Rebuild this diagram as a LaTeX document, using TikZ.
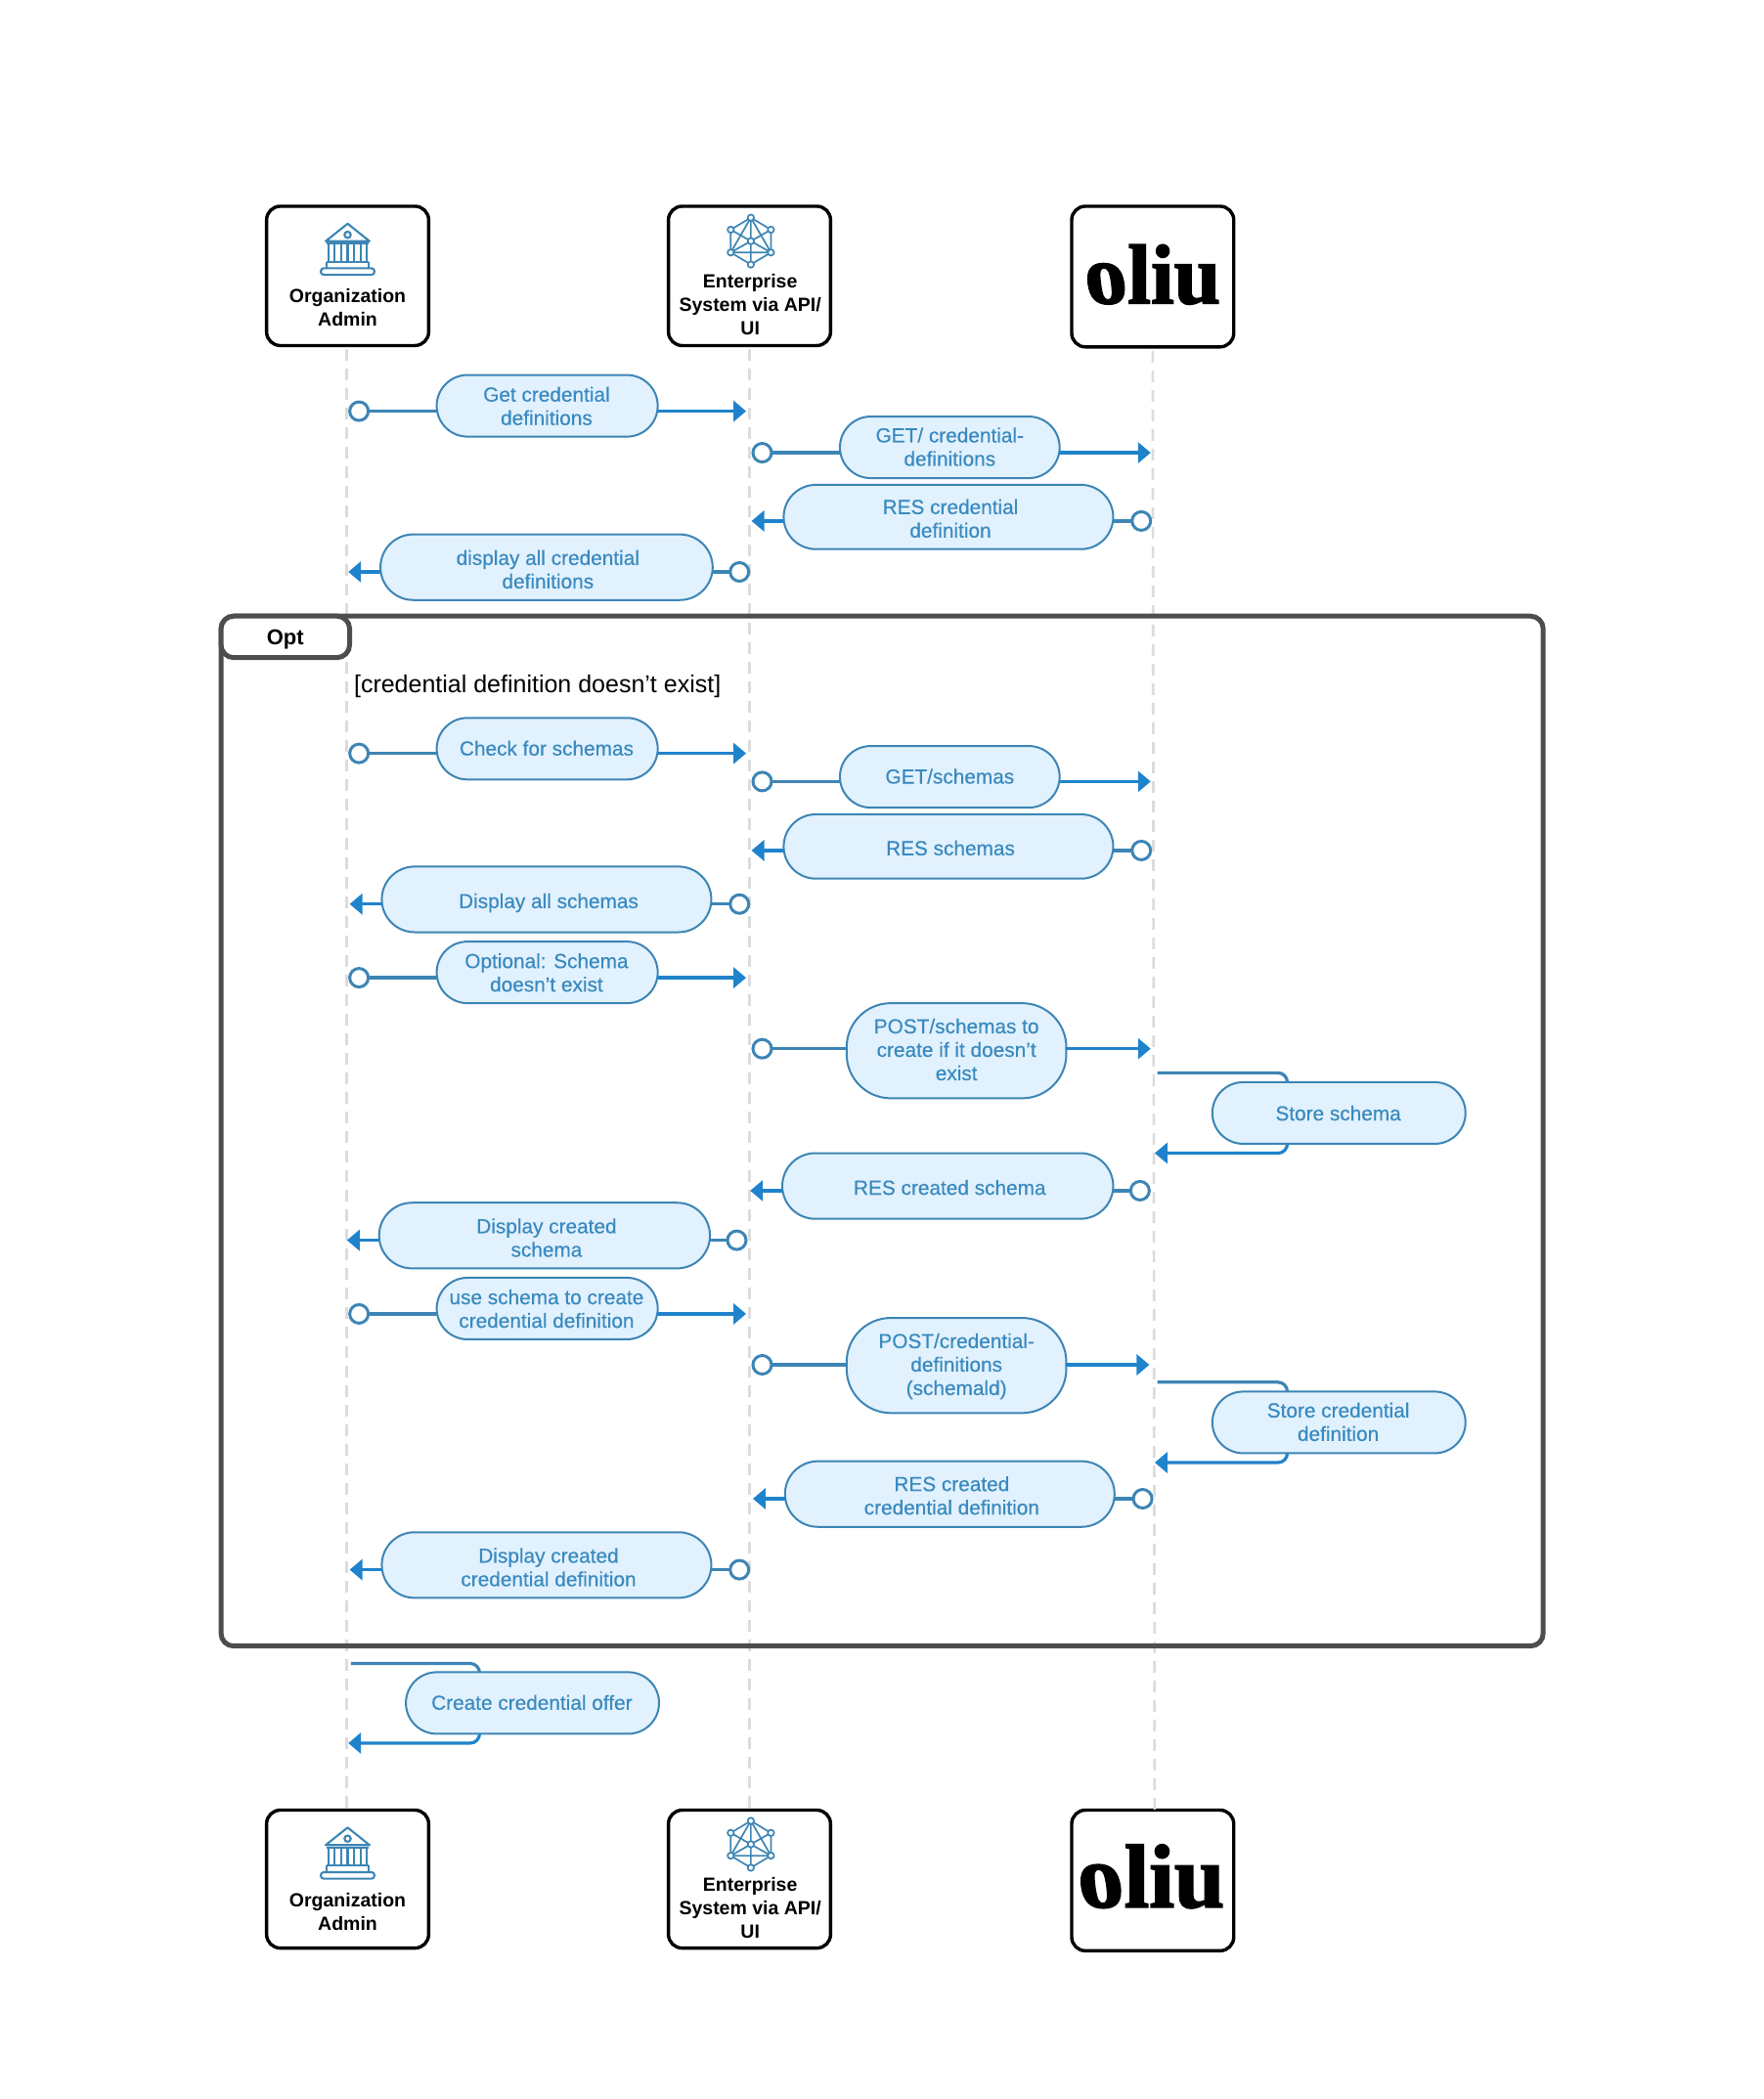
\documentclass[tikz,border=0pt]{standalone}
\usepackage{fontspec}
\usepackage{graphicx}
\usetikzlibrary{arrows.meta}
\setmainfont{Liberation Sans}
\newfontfamily\pillfont[FakeBold=0.4]{Liberation Sans}
\newfontfamily\oliufont[BoldFeatures={FakeBold=2}]{Liberation Serif}
\definecolor{pillfill}{HTML}{E1F1FD}
\definecolor{pillline}{HTML}{3D85B5}
\definecolor{pilltext}{HTML}{3A8ABF}
\definecolor{arrowblue}{HTML}{1F83CC}
\definecolor{lifegray}{HTML}{DCDCDC}
\definecolor{framegray}{HTML}{4D4D4D}
\tikzset{
  x=0.685pt,y=-0.685pt,
  actorbox/.style={draw=black,line width=1.7pt,fill=white,rounded corners=7pt,minimum width={121*0.685pt},inner sep=0pt,outer sep=0pt},
  actortext/.style={font=\fontsize{9.75}{12}\selectfont\bfseries,align=center,inner sep=0pt,text=black},
  lifeline/.style={draw=lifegray,line width=1.35pt,dash pattern=on 6pt off 4pt},
  pillbox/.style={draw=pillline,line width=1pt,fill=pillfill,inner sep=0pt,outer sep=0pt},
  pilllabel/.style={font=\pillfont\fontsize{10.4}{12}\selectfont,text=pilltext,align=center,inner sep=0pt,yshift=0.6pt},
  startdot/.style={circle,draw=pillline,line width=1.5pt,fill=white,minimum size=9.5pt,inner sep=0pt,outer sep=0pt},
  conn/.style={draw=pillline,line width=1.6pt},
  flow/.style={draw=arrowblue,line width=1.6pt,-{Triangle[length=6.5pt,width=10.5pt]}},
  loopin/.style={conn,rounded corners=4.8pt},
  loopout/.style={flow,rounded corners=4.8pt},
  framebox/.style={draw=framegray,line width=2.5pt,rounded corners=6.5pt,inner sep=0pt,outer sep=0pt},
  icon/.style={draw=pillline,line width=1.05pt},
}
% name x1 y1 x2 y2 tx ty text
\newcommand{\pillnode}[8]{%
  \node[pillbox,minimum width={(#4-#2)*0.685pt},minimum height={(#5-#3)*0.685pt},
        rounded corners={min((#5-#3)/2,33)*0.685pt}] (#1) at ({(#2+#4)/2},{(#3+#5)/2}) {};
  \node[pilllabel] (#1t) at (#6,#7) {#8};
}
% name circleX tipX y
\newcommand{\rightflow}[4]{%
  \node[startdot] (#1s) at (#2,#4) {};
  \coordinate (#1e) at (#3,#4);
  \draw[conn] (#1s) -- (#1s -| #1.west);
  \draw[flow] (#1s -| #1.east) -- (#1e);
}
\newcommand{\leftflow}[4]{%
  \node[startdot] (#1s) at (#2,#4) {};
  \coordinate (#1e) at (#3,#4);
  \draw[conn] (#1s) -- (#1s -| #1.east);
  \draw[flow] (#1s -| #1.west) -- (#1e);
}
% name startX cornerX topY bottomY tipX
\newcommand{\selfloop}[6]{%
  \coordinate (#1a) at (#2,#4);
  \coordinate (#1e) at (#6,#5);
  \draw[loopin] (#1a) -| (#3 ,{#4+9});
  \draw[loopout] (#3,{#5-9}) |- (#1e);
}
\newcommand{\oliuword}{\oliufont\bfseries{\addfontfeature{FakeSlant=-0.13}o}\kern-0.02em liu}
\newcommand{\bankicon}[2]{%
  \begin{scope}[shift={(#1,#2)}]
    \draw[icon,line join=round] (-16.4,13.1) -- (0,0) -- (16.4,13.1) -- cycle;
    \draw[icon] (0,8.3) circle (1.6pt);
    \draw[icon] (-16,15) -- (16,15);
    \foreach \vx in {-14.5,-10,-5,0,5,10,14.5} {\draw[icon] (\vx,15) -- (\vx,28.5);}
    \draw[icon] (-15.5,28.5) -- (15.5,28.5);
    \draw[icon] (-15.5,28.5) -- (-15.5,33.3) (15.5,28.5) -- (15.5,33.3);
    \draw[icon,rounded corners=1.5pt] (-20,33.3) rectangle (20,38.2);
  \end{scope}
}
\newcommand{\neticon}[2]{%
  \begin{scope}[shift={(#1,#2)}]
    \coordinate (T) at (0,-17.5); \coordinate (UR) at (15,-8.5); \coordinate (LR) at (15,8.5);
    \coordinate (B) at (0,17.5); \coordinate (LL) at (-15,8.5); \coordinate (UL) at (-15,-8.5);
    \coordinate (C) at (0,0);
    \draw[icon,line width=0.85pt] (T) -- (UR) -- (LR) -- (B) -- (LL) -- (UL) -- cycle;
    \draw[icon,line width=0.85pt] (T) -- (B) (LL) -- (LR) (T) -- (LL) (T) -- (LR) (UL) -- (C) -- (UR) (LL) -- (C) -- (LR);
    \foreach \p in {T,UR,LR,B,LL,UL,C} {\draw[icon,line width=0.85pt,fill=white] (\p) circle (1.6pt);}
  \end{scope}
}
\begin{document}
\begin{tikzpicture}
\useasboundingbox (0,0) rectangle (1316.8,1567.2);
% actors
\node[actorbox,minimum height={104*0.685pt}] (a1) at (259.5,206) {};
\node[actorbox,minimum height={104*0.685pt}] (a2) at (559.5,206) {};
\node[actorbox,minimum height={105*0.685pt}] (a3) at (860.5,206.5) {};
\node[actorbox,minimum height={103*0.685pt}] (b1) at (259.5,1403) {};
\node[actorbox,minimum height={103*0.685pt}] (b2) at (559.5,1403) {};
\node[actorbox,minimum height={105*0.685pt}] (b3) at (860.5,1404) {};
% lifelines
\draw[lifeline] ([xshift=-0.4pt,yshift=-2pt]a1.south) -- ([xshift=-0.4pt]b1.north);
\draw[lifeline] ([yshift=-2pt]a2.south) -- (b2.north);
\draw[lifeline] ([yshift=-2pt]a3.south) -- ([xshift=1pt]b3.north);
% actor contents
\bankicon{259.5}{167}
\node[actortext] (a1t) at (259.5,229.5) {Organization\\Admin};
\neticon{560.5}{180}
\node[actortext] (a2t) at (560,227.5) {Enterprise\\System via API/\\UI};
\node[inner sep=0pt] (a3t) at (861.5,205) {\resizebox{67.8pt}{30pt}{\oliuword}};
\bankicon{259.5}{1364.5}
\node[actortext] (b1t) at (259.5,1427.5) {Organization\\Admin};
\neticon{560.5}{1377}
\node[actortext] (b2t) at (560,1424.5) {Enterprise\\System via API/\\UI};
\node[inner sep=0pt] (b3t) at (860.5,1401) {\resizebox{73.3pt}{32pt}{\oliuword}};
% frame
\node[framebox,minimum width={987*0.685pt},minimum height={769*0.685pt}] (optframe) at (658.5,844.5) {};
\node[framebox,fill=white,minimum width={96*0.685pt},minimum height={31*0.685pt},font=\fontsize{11}{13}\selectfont\bfseries] (opttab) at (213,475.5) {\raisebox{-4.2pt}[0pt][0pt]{Opt}};
\node[anchor=west,inner sep=0pt,font=\fontsize{12.5}{14}\selectfont,text=black] (guard) at (264,512.5) {[credential definition doesn’t exist]};
% messages
\pillnode{m1}{326}{280}{491}{326}{408}{304}{Get credential\\definitions}
\rightflow{m1}{268}{557}{307}
\pillnode{m2}{627}{311}{791}{357}{709}{334.5}{GET/ credential-\\definitions}
\rightflow{m2}{569}{859}{338}
\pillnode{m3}{585}{362}{831}{410}{709.5}{388}{RES credential\\definition}
\leftflow{m3}{852}{561}{389}
\pillnode{m4}{284}{399}{532}{448}{409}{426}{display all credential\\definitions}
\leftflow{m4}{552}{260}{427}
\pillnode{m5}{326}{536}{491}{582}{408}{559.5}{Check for schemas}
\rightflow{m5}{268}{557}{562.5}
\pillnode{m6}{627}{557}{791}{603}{709}{580.5}{GET/schemas}
\rightflow{m6}{569}{859}{583.5}
\pillnode{m7}{585}{608}{831}{656}{709.5}{634}{RES schemas}
\leftflow{m7}{852}{561}{635}
\pillnode{m8}{285}{647}{531}{696}{409.5}{675}{Display all schemas}
\leftflow{m8}{552}{261}{675}
\pillnode{m9}{326}{703}{491}{749}{408}{727}{Optional: Schema\\doesn’t exist}
\rightflow{m9}{268}{557}{730}
\pillnode{m10}{632}{749}{796}{820}{714}{784.5}{POST/schemas to\\create if it doesn’t\\exist}
\rightflow{m10}{569}{859}{783}
\selfloop{m11}{864}{961}{801}{861}{862}
\pillnode{m11}{905}{808}{1094}{854}{999}{832}{Store schema}
\pillnode{m12}{584}{861}{831}{910}{709}{887.5}{RES created schema}
\leftflow{m12}{851}{560}{889}
\pillnode{m13}{283}{898}{530}{947}{408}{925}{Display created\\schema}
\leftflow{m13}{550}{259}{926}
\pillnode{m14}{326}{954}{491}{1000}{408}{978}{use schema to create\\credential definition}
\rightflow{m14}{268}{557}{981}
\pillnode{m15}{632}{984}{796}{1055}{714}{1021}{POST/credential-\\definitions\\(schemald)}
\rightflow{m15}{569}{858}{1019}
\selfloop{m16}{864}{961}{1032}{1092}{862}
\pillnode{m16}{905}{1039}{1094}{1085}{999}{1062.5}{Store credential\\definition}
\pillnode{m17}{586}{1091}{832}{1140}{710.5}{1117.5}{RES created\\credential definition}
\leftflow{m17}{853}{562}{1119}
\pillnode{m18}{285}{1144}{531}{1193}{409.5}{1171}{Display created\\credential definition}
\leftflow{m18}{552}{261}{1172}
\selfloop{m19}{262}{358}{1242}{1301.5}{260}
\pillnode{m19}{303}{1248.5}{492}{1294.5}{397}{1272}{Create credential offer}
\end{tikzpicture}
\end{document}
